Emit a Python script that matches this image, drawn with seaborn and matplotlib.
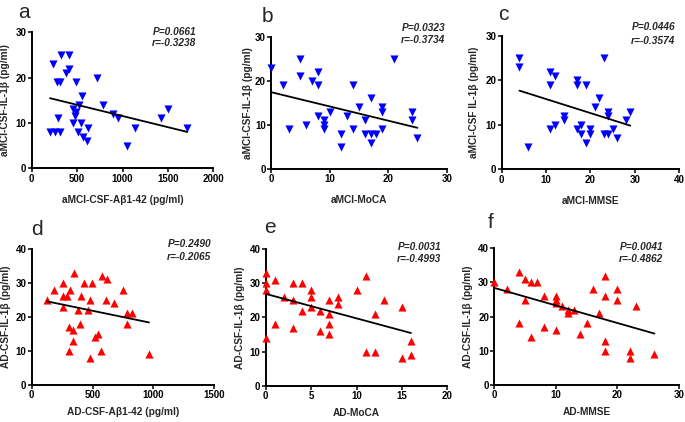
import numpy as np
import pandas as pd
import matplotlib
matplotlib.use("Agg")
import matplotlib.pyplot as plt
import seaborn as sns

# ---------------- data ----------------
a_x = [231, 319, 415, 374, 407, 275, 312, 484, 716, 550, 525, 459, 484, 477, 789, 899, 947,
       294, 202, 257, 312, 459, 543, 617, 506, 561, 613, 1046, 1138, 1424, 1497, 1714]
a_y = [23, 25, 25, 21, 22, 19, 19, 19, 20, 16, 14, 13, 12.5, 11.5, 14, 12, 11,
       11, 8, 8, 8, 10, 10, 9, 8, 7, 6, 5, 9, 11, 13, 9]

b_x = [0, 5, 5, 2, 7, 8, 8, 21, 14, 3, 6, 8, 9, 9, 9, 10, 12, 12, 13, 14, 15, 16, 16,
       17, 17, 17, 18, 19, 19, 19, 24, 24, 25]
b_y = [23, 25, 21, 19, 20, 22, 19, 25, 19, 9, 10, 12, 11, 10, 9, 13, 8, 5, 12, 9, 14, 11, 8,
       16, 8, 6, 8, 14, 13, 9, 13, 11, 7]

c_x = [4, 4, 6, 11, 12, 11, 11, 12, 14, 14, 17, 17, 19, 17, 18, 18, 19, 20, 20, 22, 21,
       23, 23, 24, 24, 24, 25, 26, 28, 29]
c_y = [25, 23, 5, 22, 21, 19, 9, 10, 12, 11, 20, 19, 19, 9, 10, 8, 6, 9, 8, 16, 14,
       25, 8, 13, 12, 8, 9, 7, 11, 13]

d_x = [128, 183, 260, 347, 314, 254, 292, 260, 402, 432, 497, 478, 383, 464, 579, 620,
       609, 678, 746, 784, 825, 784, 396, 309, 336, 336, 309, 519, 541, 478, 568, 964]
d_y = [25, 28, 30, 33, 28, 26, 26, 23, 26, 30, 30, 25, 22, 22, 32, 31,
       25, 24, 28, 21, 21, 18, 18, 17, 16, 13, 10, 14, 15, 8, 10, 9]

e_x = [0, 0, 0, 0, 1, 1, 2, 3, 3, 3, 4, 4, 5, 5, 5, 6, 6, 7, 7, 7, 7, 8, 8, 10, 11, 11,
       12, 12, 13, 15, 15, 16, 16]
e_y = [33, 30, 28, 14, 31, 18, 26, 30, 25, 17, 30, 22, 28, 26, 23, 22, 16, 25, 21, 18, 15,
       26, 24, 28, 32, 10, 21, 10, 25, 23, 8, 13, 9]

f_x = [0, 2, 4, 4, 5, 5, 6, 6, 7, 8, 8, 10, 10, 10, 10, 11, 12, 12, 13, 14, 15, 16, 17,
       18, 18, 18, 18, 20, 20, 22, 22, 23, 26]
f_y = [30, 28, 33, 18, 31, 25, 30, 14, 30, 26, 17, 26, 25, 24, 16, 23, 22, 21, 22, 15, 18,
       28, 21, 32, 26, 13, 10, 28, 25, 10, 8, 23, 9]

panel_letters = ["a", "b", "c", "d", "e", "f"]
x_labels = ["aMCI-CSF-Aβ1-42 (pg/ml)", "aMCI-MoCA", "aMCI-MMSE",
            "AD-CSF-Aβ1-42 (pg/ml)", "AD-MoCA", "AD-MMSE"]
y_labels = ["aMCI-CSF-IL-1β (pg/ml)", "aMCI-CSF-IL-1β (pg/ml)", "aMCI-CSF IL-1β (pg/ml)",
            "AD-CSF-IL-1β (pg/ml)", "AD-CSF-IL-1β (pg/ml)", "AD-CSF-IL-1β (pg/ml)"]
x_ticks = [[0, 500, 1000, 1500, 2000], [0, 10, 20, 30], [0, 10, 20, 30, 40],
           [0, 500, 1000, 1500], [0, 5, 10, 15, 20], [0, 10, 20, 30]]
y_ticks = [[0, 10, 20, 30]] * 3 + [[0, 10, 20, 30, 40]] * 3
p_texts = ["P=0.0661", "P=0.0323", "P=0.0446", "P=0.2490", "P=0.0031", "P=0.0041"]
r_texts = ["r=-0.3238", "r=-0.3734", "r=-0.3574", "r=-0.2065", "r=-0.4993", "r=-0.4862"]

xs = [a_x, b_x, c_x, d_x, e_x, f_x]
ys = [a_y, b_y, c_y, d_y, e_y, f_y]

# ---------------- style ----------------
sns.set_style("ticks")
plt.rcParams["font.family"] = ["Liberation Sans", "DejaVu Sans"]

W, H = 685, 422
fig = plt.figure(figsize=(W / 100, H / 100), dpi=100)

# axes boxes in pixel coords: (x0, x1, y_bottom, y_top)
boxes = [(31.7, 213.3, 168.3, 32.3), (271.0, 446.7, 169.0, 36.7), (501.7, 679.0, 169.3, 36.0),
         (31.7, 214.3, 385.0, 248.7), (265.7, 447.3, 385.7, 249.0), (494.3, 679.0, 385.0, 248.3)]
letter_pos = [(24, 18), (267, 22), (503.5, 20), (37, 235), (270, 233), (491, 228)]
p_pos = [(153, 35, 46), (402, 31, 43), (632, 30, 44), (168, 247, 260), (398, 250, 262), (620, 250, 262)]
xlabelpads = [8, 8, 8, 5, 5, 5]
ylabelpads = [4, 1.5, 4.5, 3, 3, 3.5]

for i in range(6):
    x0, x1, yb, yt = boxes[i]
    ax = fig.add_axes([x0 / W, 1 - yb / H, (x1 - x0) / W, (yb - yt) / H])
    df = pd.DataFrame({"x": xs[i], "y": ys[i]})
    top = i < 3
    color = "#0000FF" if top else "#FF0000"
    marker = "v" if top else "^"
    sns.scatterplot(data=df, x="x", y="y", ax=ax, marker=marker, color=color,
                    s=34, linewidth=0, clip_on=False, zorder=3)
    sns.regplot(data=df, x="x", y="y", ax=ax, scatter=False, ci=None,
                line_kws={"color": "black", "lw": 1.3, "zorder": 4})
    ax.set_xlim(x_ticks[i][0], x_ticks[i][-1])
    ax.set_ylim(y_ticks[i][0], y_ticks[i][-1])
    ax.set_xticks(x_ticks[i])
    ax.set_yticks(y_ticks[i])
    ax.set_xticklabels([str(t) for t in x_ticks[i]], fontweight="bold", fontsize=7)
    ax.set_yticklabels([str(t) for t in y_ticks[i]], fontweight="bold", fontsize=7)
    ax.tick_params(axis="both", direction="out", length=2.6, width=1.1, pad=1.2, colors="black")
    for s in ["top", "right"]:
        ax.spines[s].set_visible(False)
    for s in ["left", "bottom"]:
        ax.spines[s].set_linewidth(1.4)
        ax.spines[s].set_color("black")
    ax.set_xlabel(x_labels[i], fontweight="bold", fontsize=7.3, labelpad=xlabelpads[i])
    ax.set_ylabel(y_labels[i], fontweight="bold", fontsize=7.3, labelpad=ylabelpads[i])
    ax.set_facecolor("white")

    lx, ly = letter_pos[i]
    fig.text(lx / W, 1 - ly / H, panel_letters[i], fontsize=15, ha="center", va="baseline")
    px, pb, rb = p_pos[i]
    fig.text(px / W, 1 - pb / H, p_texts[i], fontsize=7.3, fontweight="bold", fontstyle="italic",
             ha="left", va="baseline")
    fig.text(px / W - 1 / W, 1 - rb / H, r_texts[i], fontsize=7.3, fontweight="bold", fontstyle="italic",
             ha="left", va="baseline")

fig.savefig("out.png", dpi=100, facecolor="white")
